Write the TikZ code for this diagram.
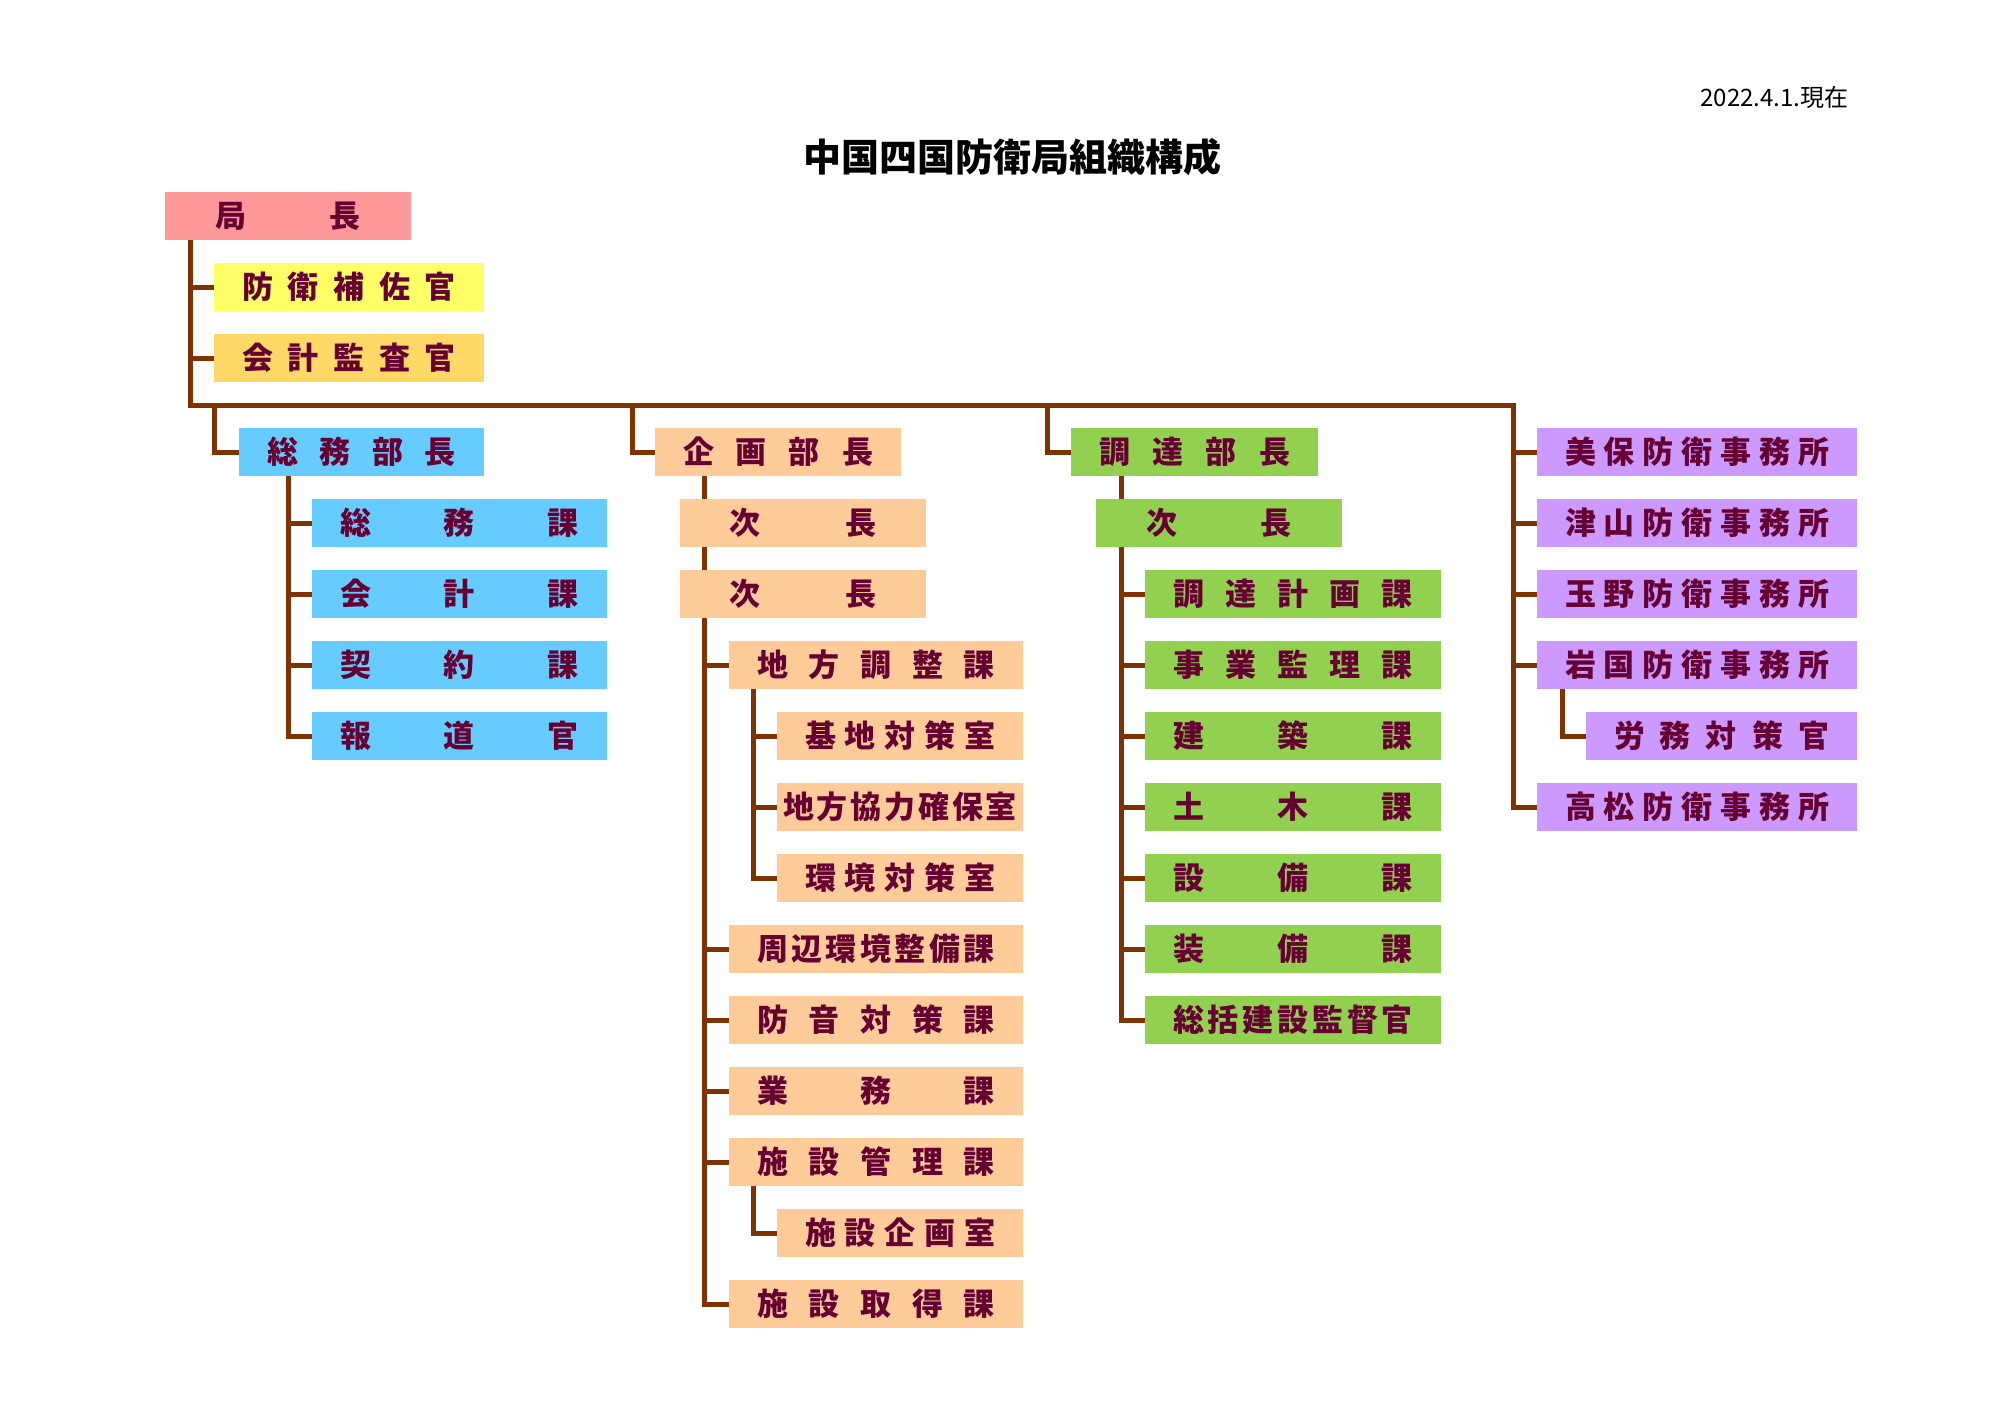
\documentclass[tikz,border=0pt]{standalone}
\usepackage{fontspec}
\newfontfamily\jp{Noto Sans CJK JP}
\usetikzlibrary{backgrounds}
\definecolor{txt}{HTML}{660033}
\definecolor{ln}{HTML}{7F3300}
\definecolor{cpink}{HTML}{FF9999}
\definecolor{cyel}{HTML}{FFFF66}
\definecolor{cgold}{HTML}{FFD966}
\definecolor{cblue}{HTML}{66CCFF}
\definecolor{cpeach}{HTML}{FFCC99}
\definecolor{cgreen}{HTML}{92D050}
\definecolor{cviolet}{HTML}{CC99FF}
\newcommand\spr[2]{\makebox[#1pt]{#2}}
\newcommand\f{\hfill}
\newcommand\orgbox[6]{%
  \node[orgnode, fill=#2, minimum width={(#4-#3)*1pt}] (#1) at ({(#3+#4)/2},#5) {#6};}
\tikzset{
  orgnode/.style={inner sep=0pt, outer sep=0pt, minimum height=48pt, text=txt,
    font=\jp\bfseries\fontsize{31}{31}\selectfont},
  conn/.style={draw=ln, line width=5pt, line join=miter}
}
\begin{document}
\begin{tikzpicture}[x=1pt,y=-1pt]
\useasboundingbox (0,0) rectangle (2000,1414);

\node[font=\jp\bfseries\fontsize{38}{38}\selectfont] (title) at (1012,157) {中国四国防衛局組織構成};
\node[anchor=east, font=\jp\fontsize{24}{24}\selectfont] (date) at (1852,97) {2022.4.1.現在};

% top
\orgbox{kyoku}{cpink}{165}{411}{216}{\spr{146}{局\f 長}}
\orgbox{hosa}{cyel}{214}{484}{287}{\spr{214}{防\f 衛\f 補\f 佐\f 官}}
\orgbox{kansa}{cgold}{214}{484}{358}{\spr{214}{会\f 計\f 監\f 査\f 官}}

% somu
\orgbox{soumu}{cblue}{239}{484}{452}{\spr{189}{総\f 務\f 部\f 長}}
\orgbox{soumuka}{cblue}{312}{607}{523}{\spr{239}{総\f 務\f 課}}
\orgbox{kaikei}{cblue}{312}{607}{594}{\spr{239}{会\f 計\f 課}}
\orgbox{keiyaku}{cblue}{312}{607}{665}{\spr{239}{契\f 約\f 課}}
\orgbox{houdou}{cblue}{312}{607}{736}{\spr{239}{報\f 道\f 官}}

% kikaku
\orgbox{kikaku}{cpeach}{655}{901}{452}{\spr{190}{企\f 画\f 部\f 長}}
\orgbox{jichoA}{cpeach}{680}{926}{523}{\spr{147}{次\f 長}}
\orgbox{jichoB}{cpeach}{680}{926}{594}{\spr{147}{次\f 長}}
\orgbox{chiho}{cpeach}{729}{1023}{665}{\spr{238}{地\f 方\f 調\f 整\f 課}}
\orgbox{kichi}{cpeach}{777}{1023}{736}{\spr{190}{基\f 地\f 対\f 策\f 室}}
\orgbox{kyoryoku}{cpeach}{777}{1023}{807}{\spr{234}{地\f 方\f 協\f 力\f 確\f 保\f 室}}
\orgbox{kankyo}{cpeach}{777}{1023}{878}{\spr{190}{環\f 境\f 対\f 策\f 室}}
\orgbox{shuhen}{cpeach}{729}{1023}{949}{\spr{238}{周\f 辺\f 環\f 境\f 整\f 備\f 課}}
\orgbox{boon}{cpeach}{729}{1023}{1020}{\spr{238}{防\f 音\f 対\f 策\f 課}}
\orgbox{gyomu}{cpeach}{729}{1023}{1091}{\spr{238}{業\f 務\f 課}}
\orgbox{kanri}{cpeach}{729}{1023}{1162}{\spr{238}{施\f 設\f 管\f 理\f 課}}
\orgbox{kikakushitsu}{cpeach}{777}{1023}{1233}{\spr{190}{施\f 設\f 企\f 画\f 室}}
\orgbox{shutoku}{cpeach}{729}{1023}{1304}{\spr{238}{施\f 設\f 取\f 得\f 課}}

% chotatsu
\orgbox{chotatsu}{cgreen}{1071}{1318}{452}{\spr{191}{調\f 達\f 部\f 長}}
\orgbox{jichoC}{cgreen}{1096}{1342}{523}{\spr{146}{次\f 長}}
\orgbox{keikaku}{cgreen}{1145}{1441}{594}{\spr{240}{調\f 達\f 計\f 画\f 課}}
\orgbox{jigyo}{cgreen}{1145}{1441}{665}{\spr{240}{事\f 業\f 監\f 理\f 課}}
\orgbox{kenchiku}{cgreen}{1145}{1441}{736}{\spr{240}{建\f 築\f 課}}
\orgbox{doboku}{cgreen}{1145}{1441}{807}{\spr{240}{土\f 木\f 課}}
\orgbox{setsubi}{cgreen}{1145}{1441}{878}{\spr{240}{設\f 備\f 課}}
\orgbox{sobi}{cgreen}{1145}{1441}{949}{\spr{240}{装\f 備\f 課}}
\orgbox{sokatsu}{cgreen}{1145}{1441}{1020}{\spr{240}{総\f 括\f 建\f 設\f 監\f 督\f 官}}

% offices
\orgbox{miho}{cviolet}{1537}{1857}{452}{\spr{264}{美\f 保\f 防\f 衛\f 事\f 務\f 所}}
\orgbox{tsuyama}{cviolet}{1537}{1857}{523}{\spr{264}{津\f 山\f 防\f 衛\f 事\f 務\f 所}}
\orgbox{tamano}{cviolet}{1537}{1857}{594}{\spr{264}{玉\f 野\f 防\f 衛\f 事\f 務\f 所}}
\orgbox{iwakuni}{cviolet}{1537}{1857}{665}{\spr{264}{岩\f 国\f 防\f 衛\f 事\f 務\f 所}}
\orgbox{romu}{cviolet}{1586}{1857}{736}{\spr{215}{労\f 務\f 対\f 策\f 官}}
\orgbox{takamatsu}{cviolet}{1537}{1857}{807}{\spr{264}{高\f 松\f 防\f 衛\f 事\f 務\f 所}}

% junction coordinates
\coordinate (tA) at (190,405);
\coordinate (barR) at (1513,405);
\coordinate (dS) at (214,405);
\coordinate (dK) at (632,405);
\coordinate (dC) at (1047,405);
\coordinate (xS) at (288,0);
\coordinate (xK) at (704,0);
\coordinate (xK2) at (753,0);
\coordinate (xC) at (1121,0);
\coordinate (xI) at (1562,0);

\begin{scope}[on background layer]
\fill[white] (0,0) rectangle (2000,1414);
\draw[conn] (kyoku.south -| tA) -- (tA) -- (barR) |- (takamatsu.west);
\draw[conn] (tA |- hosa.west) -- (hosa.west);
\draw[conn] (tA |- kansa.west) -- (kansa.west);
\draw[conn] (dS) |- (soumu.west);
\draw[conn] (dK) |- (kikaku.west);
\draw[conn] (dC) |- (chotatsu.west);
\foreach \n in {miho,tsuyama,tamano,iwakuni}
  \draw[conn] (barR |- \n.west) -- (\n.west);
\draw[conn] (iwakuni.south -| xI) |- (romu.west);
% somu
\draw[conn] (soumu.south -| xS) |- (houdou.west);
\foreach \n in {soumuka,kaikei,keiyaku}
  \draw[conn] (xS |- \n.west) -- (\n.west);
% kikaku
\draw[conn] (kikaku.south -| xK) |- (shutoku.west);
\foreach \n in {chiho,shuhen,boon,gyomu,kanri}
  \draw[conn] (xK |- \n.west) -- (\n.west);
\draw[conn] (chiho.south -| xK2) |- (kankyo.west);
\foreach \n in {kichi,kyoryoku}
  \draw[conn] (xK2 |- \n.west) -- (\n.west);
\draw[conn] (kanri.south -| xK2) |- (kikakushitsu.west);
% chotatsu
\draw[conn] (chotatsu.south -| xC) |- (sokatsu.west);
\foreach \n in {keikaku,jigyo,kenchiku,doboku,setsubi,sobi}
  \draw[conn] (xC |- \n.west) -- (\n.west);
\end{scope}
\end{tikzpicture}
\end{document}
